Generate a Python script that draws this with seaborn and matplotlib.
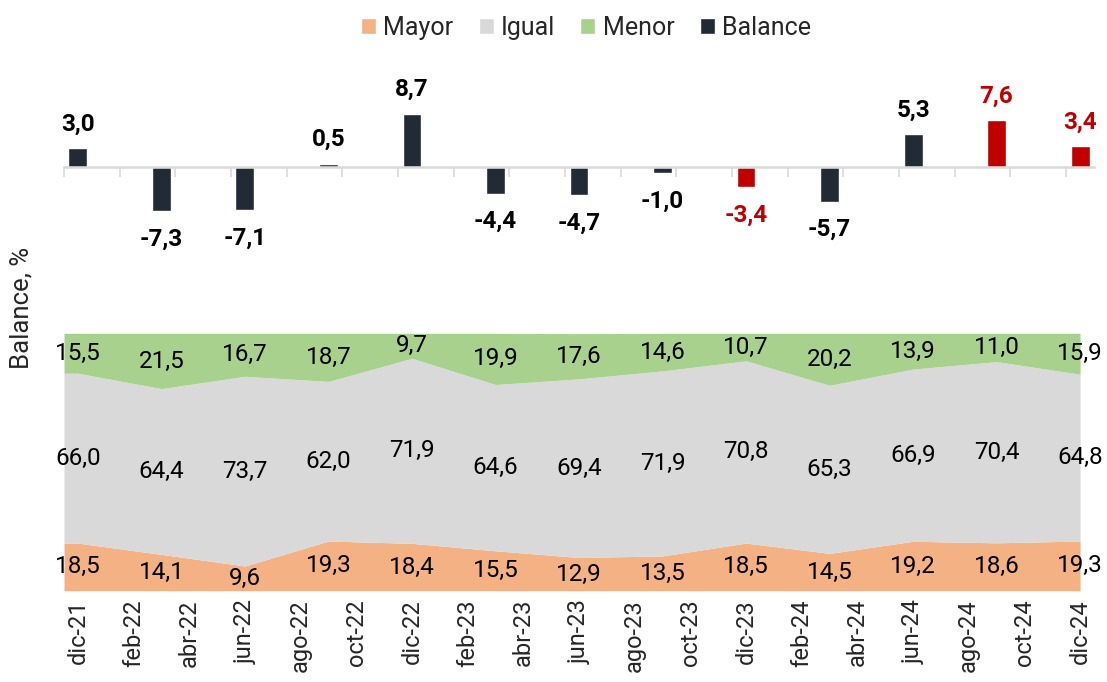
import numpy as np
import pandas as pd
import matplotlib
matplotlib.use("Agg")
import matplotlib.pyplot as plt
import seaborn as sns
from matplotlib.patches import Patch

# ---------------- data ----------------
months_all = ["dic-21", "ene-22", "feb-22", "mar-22", "abr-22", "may-22", "jun-22", "jul-22",
              "ago-22", "sep-22", "oct-22", "nov-22", "dic-22", "ene-23", "feb-23", "mar-23",
              "abr-23", "may-23", "jun-23", "jul-23", "ago-23", "sep-23", "oct-23", "nov-23",
              "dic-23", "ene-24", "feb-24", "mar-24", "abr-24", "may-24", "jun-24", "jul-24",
              "ago-24", "sep-24", "oct-24", "nov-24", "dic-24"]
tick_labels = ["dic-21", "feb-22", "abr-22", "jun-22", "ago-22", "oct-22", "dic-22", "feb-23",
               "abr-23", "jun-23", "ago-23", "oct-23", "dic-23", "feb-24", "abr-24", "jun-24",
               "ago-24", "oct-24", "dic-24"]
quarters = ["dic-21", "mar-22", "jun-22", "sep-22", "dic-22", "mar-23", "jun-23", "sep-23",
            "dic-23", "mar-24", "jun-24", "sep-24", "dic-24"]
mayor = [18.5, 14.1, 9.6, 19.3, 18.4, 15.5, 12.9, 13.5, 18.5, 14.5, 19.2, 18.6, 19.3]
igual = [66.0, 64.4, 73.7, 62.0, 71.9, 64.6, 69.4, 71.9, 70.8, 65.3, 66.9, 70.4, 64.8]
menor = [15.5, 21.5, 16.7, 18.7, 9.7, 19.9, 17.6, 14.6, 10.7, 20.2, 13.9, 11.0, 15.9]
balance = [3.0, -7.3, -7.1, 0.5, 8.7, -4.4, -4.7, -1.0, -3.4, -5.7, 5.3, 7.6, 3.4]
highlight = [False, False, False, False, False, False, False, False, True, False, False, True, True]

# ---------------- style ----------------
C_MAYOR = "#F4B183"
C_IGUAL = "#D9D9D9"
C_MENOR = "#A9D18E"
C_BAL = "#222A35"
C_RED = "#C00000"

sns.set_theme(style="white")
plt.rcParams["font.family"] = ["Roboto", "DejaVu Sans"]

W, H = 1107, 682
fig = plt.figure(figsize=(W / 100, H / 100), dpi=100)

left = 64 / W
width = 1030 / W
ax_top = fig.add_axes([left, 1 - 290 / H, width, 220 / H])
ax_bot = fig.add_axes([left, 1 - 590.7 / H, width, 257.4 / H])

# ---------------- top: balance bars ----------------
df = pd.DataFrame({"mes": quarters, "balance": balance,
                   "grupo": ["rojo" if h else "base" for h in highlight]})
sns.barplot(data=df, x="mes", y="balance", hue="grupo", order=months_all,
            palette={"base": C_BAL, "rojo": C_RED}, width=0.68, dodge=False,
            legend=False, ax=ax_top, saturation=1)
ax_top.set_xlim(-0.5, len(months_all) - 0.5)
ax_top.set_ylim(-20.2, 15.85)
for s in ["top", "right", "left"]:
    ax_top.spines[s].set_visible(False)
ax_top.spines["bottom"].set_position(("data", 0))
ax_top.spines["bottom"].set_color("#D9D9D9")
ax_top.spines["bottom"].set_linewidth(1.8)
ax_top.set_xticks(np.arange(-0.5, len(months_all) - 1, 2))
ax_top.tick_params(axis="x", direction="out", length=7, width=1.2, color="#D9D9D9",
                   labelbottom=False, bottom=True)
ax_top.set_yticks([])
ax_top.set_xlabel("")
ax_top.set_ylabel("")

for q, v, h in zip(quarters, balance, highlight):
    xi = months_all.index(q)
    off = 24 if v >= 0 else -28
    ax_top.annotate(f"{v:.1f}".replace(".", ","), (xi, v), xytext=(0, off),
                    textcoords="offset pixels", ha="center", va="center",
                    fontsize=17.5, fontweight="bold", color=C_RED if h else "black")

# ---------------- bottom: stacked area ----------------
xq = np.array([months_all.index(q) for q in quarters], dtype=float)
xa = np.r_[xq[0] - 0.5, xq]
ma = np.r_[mayor[0], mayor]
ia = np.r_[igual[0], igual]
mn = np.r_[menor[0], menor]
ax_bot.stackplot(xa, ma, ia, mn, colors=[C_MAYOR, C_IGUAL, C_MENOR], linewidth=0)
ax_bot.set_xlim(-0.5, len(months_all) - 0.5)
ax_bot.set_ylim(0, 100)
sns.despine(ax=ax_bot, left=True, bottom=True)
ax_bot.set_yticks([])
ax_bot.set_xticks([months_all.index(t) for t in tick_labels])
ax_bot.set_xticklabels(tick_labels, rotation=90, fontsize=17)
ax_bot.tick_params(axis="x", length=0, pad=6)

for i, xi in enumerate(xq):
    base = 0.0
    for vals in (mayor, igual, menor):
        v = vals[i]
        ax_bot.text(xi, base + v / 2, f"{v:.1f}".replace(".", ","), ha="center",
                    va="center", fontsize=17.5, color="black")
        base += v

# ---------------- labels / legend ----------------
fig.text(22 / W, 1 - 308 / H, "Balance, %", rotation=90, ha="center", va="center",
         fontsize=18.5)

handles = [Patch(facecolor=C_MAYOR), Patch(facecolor=C_IGUAL),
           Patch(facecolor=C_MENOR), Patch(facecolor=C_BAL)]
fig.legend(handles, ["Mayor", "Igual", "Menor", "Balance"], loc="center",
           bbox_to_anchor=(586 / W, 1 - 28 / H), ncol=4, frameon=False, fontsize=18,
           handlelength=0.6, handleheight=0.6, handletextpad=0.3, columnspacing=1.0)

fig.savefig("out.png", dpi=100)
